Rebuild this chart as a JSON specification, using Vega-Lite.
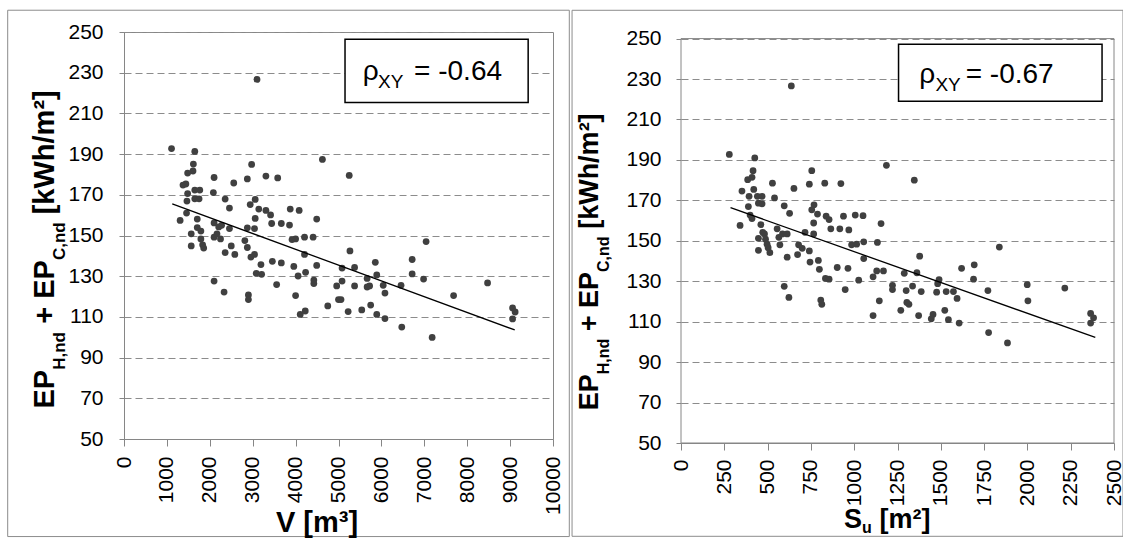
{
  "$schema": "https://vega.github.io/schema/vega-lite/v6.json",
  "background": "white",
  "padding": {"left": 6, "top": 9, "right": 0, "bottom": 0},
  "spacing": 0,
  "config": {
    "view": {"stroke": "#868686", "strokeWidth": 1},
    "font": "Liberation Sans",
    "axis": {
      "labelFont": "Liberation Sans", "labelFontSize": 21, "labelColor": "#000000",
      "domainColor": "#868686", "tickColor": "#868686", "gridColor": "#8c8c8c",
      "gridDash": [7, 4], "labelOverlap": false, "labelFlush": false, "labelBound": false
    },
    "text": {"font": "Liberation Sans", "color": "#000000"}
  },
  "datasets": {
    "left": [
      {"V":1108,"EP":192.7},{"V":1308,"EP":157.4},{"V":1375,"EP":174.8},{"V":1442,"EP":175.3},{"V":1483,"EP":180.7},
      {"V":1608,"EP":181.7},{"V":1617,"EP":185.1},{"V":1650,"EP":191.3},{"V":1483,"EP":170.6},{"V":1467,"EP":166.9},
      {"V":1458,"EP":161.0},{"V":1650,"EP":172.3},{"V":1767,"EP":172.3},{"V":1650,"EP":168.0},{"V":1750,"EP":168.0},
      {"V":1708,"EP":158.1},{"V":1567,"EP":150.8},{"V":1567,"EP":144.9},{"V":1708,"EP":153.9},{"V":1792,"EP":152.2},
      {"V":1792,"EP":148.3},{"V":1833,"EP":145.4},{"V":1858,"EP":143.8},{"V":2100,"EP":178.5},{"V":2083,"EP":171.1},
      {"V":2100,"EP":156.2},{"V":2100,"EP":149.2},{"V":2208,"EP":154.2},{"V":2167,"EP":150.8},{"V":2250,"EP":148.3},
      {"V":2275,"EP":155.0},{"V":2100,"EP":127.6},{"V":2333,"EP":122.2},{"V":2358,"EP":167.9},{"V":2458,"EP":163.5},
      {"V":2558,"EP":175.8},{"V":2358,"EP":141.6},{"V":2583,"EP":140.7},{"V":2458,"EP":153.4},{"V":2500,"EP":144.9},
      {"V":2875,"EP":177.8},{"V":2975,"EP":184.9},{"V":2942,"EP":165.2},{"V":3058,"EP":167.7},{"V":3058,"EP":158.4},
      {"V":2875,"EP":153.8},{"V":3042,"EP":153.4},{"V":2875,"EP":144.1},{"V":2958,"EP":139.4},{"V":3042,"EP":140.7},
      {"V":2817,"EP":147.5},{"V":3083,"EP":131.4},{"V":3208,"EP":130.9},{"V":3192,"EP":135.7},{"V":2900,"EP":120.8},
      {"V":2900,"EP":118.5},{"V":3100,"EP":226.7},{"V":3142,"EP":163.0},{"V":3308,"EP":179.2},{"V":3308,"EP":162.3},
      {"V":3417,"EP":160.1},{"V":3442,"EP":155.9},{"V":3583,"EP":178.3},{"V":3458,"EP":137.3},{"V":3667,"EP":136.5},
      {"V":3558,"EP":125.9},{"V":3667,"EP":155.9},{"V":3858,"EP":155.1},{"V":3875,"EP":163.0},{"V":4083,"EP":162.3},
      {"V":3917,"EP":148.0},{"V":4000,"EP":148.3},{"V":3958,"EP":134.8},{"V":4000,"EP":120.5},{"V":4058,"EP":130.1},
      {"V":4208,"EP":149.2},{"V":4208,"EP":140.7},{"V":4233,"EP":131.9},{"V":4108,"EP":111.2},{"V":4225,"EP":112.9},
      {"V":4408,"EP":149.2},{"V":4492,"EP":158.1},{"V":4425,"EP":128.1},{"V":4425,"EP":126.4},{"V":4492,"EP":135.3},
      {"V":4625,"EP":187.4},{"V":4750,"EP":115.4},{"V":4958,"EP":125.2},{"V":5000,"EP":118.5},{"V":5058,"EP":118.5},
      {"V":5083,"EP":127.6},{"V":5083,"EP":134.0},{"V":5250,"EP":179.5},{"V":5267,"EP":142.4},{"V":5225,"EP":112.6},
      {"V":5375,"EP":134.3},{"V":5375,"EP":125.2},{"V":5542,"EP":113.4},{"V":5667,"EP":128.9},{"V":5667,"EP":124.7},
      {"V":5725,"EP":125.2},{"V":5750,"EP":115.8},{"V":5858,"EP":136.8},{"V":5892,"EP":130.6},{"V":5892,"EP":111.2},
      {"V":6042,"EP":125.5},{"V":6083,"EP":121.7},{"V":6083,"EP":109.2},{"V":6458,"EP":125.5},{"V":6475,"EP":105.0},
      {"V":6717,"EP":138.2},{"V":6717,"EP":131.1},{"V":6983,"EP":128.6},{"V":7042,"EP":147.0},{"V":7183,"EP":99.9},
      {"V":7683,"EP":120.5},{"V":8475,"EP":126.7},{"V":9058,"EP":114.4},{"V":9117,"EP":112.4},{"V":9058,"EP":109.0}
    ],
    "right": [
      {"S":279,"EP":192.7},{"S":352,"EP":174.6},{"S":341,"EP":157.6},{"S":385,"EP":180.2},{"S":410,"EP":181.4},
      {"S":416,"EP":184.7},{"S":426,"EP":191.0},{"S":389,"EP":166.9},{"S":393,"EP":172.0},{"S":399,"EP":162.7},
      {"S":410,"EP":161.0},{"S":420,"EP":175.4},{"S":441,"EP":172.0},{"S":468,"EP":172.0},{"S":447,"EP":168.6},
      {"S":468,"EP":168.3},{"S":447,"EP":151.2},{"S":447,"EP":145.3},{"S":461,"EP":158.0},{"S":472,"EP":154.2},
      {"S":482,"EP":153.4},{"S":488,"EP":150.8},{"S":497,"EP":148.3},{"S":503,"EP":146.6},{"S":513,"EP":144.1},
      {"S":528,"EP":178.5},{"S":540,"EP":171.2},{"S":555,"EP":155.9},{"S":565,"EP":151.7},{"S":571,"EP":148.0},
      {"S":586,"EP":153.4},{"S":596,"EP":167.3},{"S":613,"EP":153.4},{"S":596,"EP":127.5},{"S":623,"EP":122.0},
      {"S":613,"EP":141.9},{"S":627,"EP":163.6},{"S":637,"EP":226.6},{"S":652,"EP":175.9},{"S":673,"EP":143.2},
      {"S":679,"EP":148.0},{"S":700,"EP":146.3},{"S":716,"EP":154.2},{"S":741,"EP":178.0},{"S":755,"EP":184.7},
      {"S":755,"EP":165.3},{"S":768,"EP":167.8},{"S":766,"EP":158.8},{"S":766,"EP":153.4},{"S":741,"EP":145.0},
      {"S":745,"EP":139.5},{"S":793,"EP":140.3},{"S":788,"EP":163.2},{"S":799,"EP":135.9},{"S":830,"EP":178.5},
      {"S":834,"EP":131.4},{"S":855,"EP":131.0},{"S":807,"EP":120.7},{"S":813,"EP":118.6},{"S":838,"EP":162.2},
      {"S":855,"EP":160.5},{"S":865,"EP":155.9},{"S":923,"EP":178.3},{"S":917,"EP":155.9},{"S":938,"EP":162.2},
      {"S":969,"EP":155.4},{"S":964,"EP":136.4},{"S":948,"EP":125.9},{"S":902,"EP":136.8},{"S":985,"EP":148.0},
      {"S":1006,"EP":162.7},{"S":1014,"EP":148.3},{"S":1026,"EP":130.5},{"S":1051,"EP":162.4},{"S":1055,"EP":149.5},
      {"S":1055,"EP":141.2},{"S":1109,"EP":132.2},{"S":1109,"EP":113.0},{"S":1130,"EP":135.1},{"S":1134,"EP":149.2},
      {"S":1145,"EP":120.3},{"S":1155,"EP":158.5},{"S":1169,"EP":135.1},{"S":1186,"EP":187.3},{"S":1221,"EP":128.0},
      {"S":1221,"EP":125.9},{"S":1269,"EP":115.6},{"S":1289,"EP":133.9},{"S":1300,"EP":125.4},{"S":1304,"EP":119.5},
      {"S":1316,"EP":118.6},{"S":1337,"EP":127.6},{"S":1347,"EP":180.0},{"S":1362,"EP":134.2},{"S":1378,"EP":142.4},
      {"S":1372,"EP":113.0},{"S":1387,"EP":124.9},{"S":1445,"EP":111.4},{"S":1455,"EP":113.6},{"S":1476,"EP":124.6},
      {"S":1482,"EP":128.8},{"S":1490,"EP":130.8},{"S":1523,"EP":115.6},{"S":1531,"EP":124.9},{"S":1544,"EP":111.0},
      {"S":1573,"EP":124.9},{"S":1594,"EP":121.5},{"S":1606,"EP":109.3},{"S":1620,"EP":136.4},{"S":1689,"EP":131.0},
      {"S":1693,"EP":138.1},{"S":1772,"EP":125.4},{"S":1776,"EP":104.6},{"S":1838,"EP":146.9},{"S":1885,"EP":99.5},
      {"S":1999,"EP":128.3},{"S":2003,"EP":120.3},{"S":2216,"EP":126.6},{"S":2365,"EP":114.1},{"S":2382,"EP":111.9},
      {"S":2365,"EP":109.3}
    ],
    "trendL": [{"V":1125,"EP":165.5},{"V":9108,"EP":103.6}],
    "trendR": [{"S":286,"EP":166.4},{"S":2392,"EP":102.2}]
  },
  "hconcat": [
    {
      "width": 429, "height": 407,
      "layer": [
        {
          "data": {"values": [{"k": "frame"}]},
          "mark": {"type": "rect", "filled": false, "stroke": "#8c8c8c", "strokeWidth": 1},
          "encoding": {
            "x": {"datum": -2711, "type": "quantitative", "scale": {"domain": [0, 10000], "nice": false, "zero": false}},
            "x2": {"datum": 10380},
            "y": {"datum": 260.7, "type": "quantitative", "scale": {"domain": [50, 250], "nice": false, "zero": false}},
            "y2": {"datum": 2.06}
          }
        },
        {
          "data": {"name": "left"},
          "mark": {"type": "circle", "size": 46, "color": "#404040", "opacity": 1},
          "encoding": {
            "x": {"field": "V", "type": "quantitative",
                  "scale": {"domain": [0, 10000], "nice": false, "zero": false},
                  "axis": {"title": null, "values": [0,1000,2000,3000,4000,5000,6000,7000,8000,9000,10000], "format": "d",
                           "labelAngle": 270, "tickSize": 7, "labelPadding": 10, "grid": false}},
            "y": {"field": "EP", "type": "quantitative",
                  "scale": {"domain": [50, 250], "nice": false, "zero": false},
                  "axis": {"title": null, "values": [50,70,90,110,130,150,170,190,210,230,250], "format": "d",
                           "tickSize": 5, "labelPadding": 16, "grid": true}}
          }
        },
        {
          "data": {"name": "trendL"},
          "mark": {"type": "line", "color": "#000000", "strokeWidth": 1.3},
          "encoding": {"x": {"field": "V", "type": "quantitative"}, "y": {"field": "EP", "type": "quantitative"}}
        },
        {
          "data": {"values": [{"k": "box"}]},
          "mark": {"type": "rect", "fill": "#ffffff", "stroke": "#000000", "strokeWidth": 1.5},
          "encoding": {"x": {"datum": 5152, "type": "quantitative"}, "x2": {"datum": 9421},
                       "y": {"datum": 246.4, "type": "quantitative"}, "y2": {"datum": 215.4}}
        },
        {
          "data": {"values": [{"t": "ρ"}]},
          "mark": {"type": "text", "align": "left", "baseline": "alphabetic", "fontSize": 28},
          "encoding": {"x": {"datum": 5565, "type": "quantitative"}, "y": {"datum": 226.3, "type": "quantitative"}, "text": {"field": "t"}}
        },
        {
          "data": {"values": [{"t": "XY"}]},
          "mark": {"type": "text", "align": "left", "baseline": "alphabetic", "fontSize": 19},
          "encoding": {"x": {"datum": 5922, "type": "quantitative"}, "y": {"datum": 222.3, "type": "quantitative"}, "text": {"field": "t"}}
        },
        {
          "data": {"values": [{"t": "= -0.64"}]},
          "mark": {"type": "text", "align": "left", "baseline": "alphabetic", "fontSize": 28},
          "encoding": {"x": {"datum": 6762, "type": "quantitative"}, "y": {"datum": 226.3, "type": "quantitative"}, "text": {"field": "t"}}
        },
        {
          "data": {"values": [{"t": "V [m³]"}]},
          "mark": {"type": "text", "align": "left", "baseline": "alphabetic", "fontSize": 29, "fontWeight": "bold"},
          "encoding": {"x": {"datum": 3542, "type": "quantitative"}, "y": {"datum": 4.52, "type": "quantitative"}, "text": {"field": "t"}}
        },
        {
          "data": {"values": [{"t": "EP"}]},
          "mark": {"type": "text", "align": "left", "baseline": "alphabetic", "angle": 270, "fontSize": 29, "fontWeight": "bold"},
          "encoding": {"x": {"datum": -1638, "type": "quantitative"}, "y": {"datum": 65.0, "type": "quantitative"}, "text": {"field": "t"}}
        },
        {
          "data": {"values": [{"t": "H,nd"}]},
          "mark": {"type": "text", "align": "left", "baseline": "alphabetic", "angle": 270, "fontSize": 17, "fontWeight": "bold"},
          "encoding": {"x": {"datum": -1381, "type": "quantitative"}, "y": {"datum": 84.0, "type": "quantitative"}, "text": {"field": "t"}}
        },
        {
          "data": {"values": [{"t": "+"}]},
          "mark": {"type": "text", "align": "left", "baseline": "alphabetic", "angle": 270, "fontSize": 29, "fontWeight": "bold"},
          "encoding": {"x": {"datum": -1638, "type": "quantitative"}, "y": {"datum": 106.6, "type": "quantitative"}, "text": {"field": "t"}}
        },
        {
          "data": {"values": [{"t": "EP"}]},
          "mark": {"type": "text", "align": "left", "baseline": "alphabetic", "angle": 270, "fontSize": 29, "fontWeight": "bold"},
          "encoding": {"x": {"datum": -1638, "type": "quantitative"}, "y": {"datum": 118.9, "type": "quantitative"}, "text": {"field": "t"}}
        },
        {
          "data": {"values": [{"t": "C,nd"}]},
          "mark": {"type": "text", "align": "left", "baseline": "alphabetic", "angle": 270, "fontSize": 17, "fontWeight": "bold"},
          "encoding": {"x": {"datum": -1381, "type": "quantitative"}, "y": {"datum": 137.9, "type": "quantitative"}, "text": {"field": "t"}}
        },
        {
          "data": {"values": [{"t": "[kWh/m²]"}]},
          "mark": {"type": "text", "align": "left", "baseline": "alphabetic", "angle": 270, "fontSize": 29, "fontWeight": "bold"},
          "encoding": {"x": {"datum": -1638, "type": "quantitative"}, "y": {"datum": 160.4, "type": "quantitative"}, "text": {"field": "t"}}
        }
      ]
    },
    {
      "width": 433, "height": 411,
      "view": {"stroke": null},
      "layer": [
        {
          "data": {"values": [{"k": "frame"}]},
          "mark": {"type": "rect", "filled": false, "stroke": "#8c8c8c", "strokeWidth": 1},
          "encoding": {
            "x": {"datum": -629, "type": "quantitative", "scale": {"domain": [0, 2500], "nice": false, "zero": false}},
            "x2": {"datum": 2552},
            "y": {"datum": 264.0, "type": "quantitative", "scale": {"domain": [50, 253.26], "nice": false, "zero": false}},
            "y2": {"datum": 3.86}
          }
        },
        {
          "data": {"name": "right"},
          "mark": {"type": "circle", "size": 46, "color": "#404040", "opacity": 1},
          "encoding": {
            "x": {"field": "S", "type": "quantitative",
                  "scale": {"domain": [0, 2500], "nice": false, "zero": false},
                  "axis": {"title": null, "values": [0,250,500,750,1000,1250,1500,1750,2000,2250,2500], "format": "d",
                           "labelAngle": 270, "tickSize": 7, "labelPadding": 9, "grid": false}},
            "y": {"field": "EP", "type": "quantitative",
                  "scale": {"domain": [50, 253.26], "nice": false, "zero": false},
                  "axis": {"title": null, "values": [50,70,90,110,130,150,170,190,210,230,250], "format": "d",
                           "tickSize": 5, "labelPadding": 15, "grid": true, "domain": false}}
          }
        },
        {
          "data": {"values": [{"k": "plotborder"}]},
          "mark": {"type": "rect", "filled": false, "stroke": "#868686", "strokeWidth": 1},
          "encoding": {"x": {"datum": 0, "type": "quantitative"}, "x2": {"datum": 2500},
                       "y": {"datum": 250, "type": "quantitative"}, "y2": {"datum": 50}}
        },
        {
          "data": {"name": "trendR"},
          "mark": {"type": "line", "color": "#000000", "strokeWidth": 1.3},
          "encoding": {"x": {"field": "S", "type": "quantitative"}, "y": {"field": "EP", "type": "quantitative"}}
        },
        {
          "data": {"values": [{"k": "box"}]},
          "mark": {"type": "rect", "fill": "#ffffff", "stroke": "#000000", "strokeWidth": 1.5},
          "encoding": {"x": {"datum": 1256, "type": "quantitative"}, "x2": {"datum": 2431},
                       "y": {"datum": 247.2, "type": "quantitative"}, "y2": {"datum": 219.0}}
        },
        {
          "data": {"values": [{"t": "ρ"}]},
          "mark": {"type": "text", "align": "left", "baseline": "alphabetic", "fontSize": 28},
          "encoding": {"x": {"datum": 1376, "type": "quantitative"}, "y": {"datum": 228.2, "type": "quantitative"}, "text": {"field": "t"}}
        },
        {
          "data": {"values": [{"t": "XY"}]},
          "mark": {"type": "text", "align": "left", "baseline": "alphabetic", "fontSize": 19},
          "encoding": {"x": {"datum": 1469, "type": "quantitative"}, "y": {"datum": 224.3, "type": "quantitative"}, "text": {"field": "t"}}
        },
        {
          "data": {"values": [{"t": "= -0.67"}]},
          "mark": {"type": "text", "align": "left", "baseline": "alphabetic", "fontSize": 28},
          "encoding": {"x": {"datum": 1644, "type": "quantitative"}, "y": {"datum": 228.2, "type": "quantitative"}, "text": {"field": "t"}}
        },
        {
          "data": {"values": [{"t": "S"}]},
          "mark": {"type": "text", "align": "left", "baseline": "alphabetic", "fontSize": 27, "fontWeight": "bold"},
          "encoding": {"x": {"datum": 941, "type": "quantitative"}, "y": {"datum": 7.81, "type": "quantitative"}, "text": {"field": "t"}}
        },
        {
          "data": {"values": [{"t": "u"}]},
          "mark": {"type": "text", "align": "left", "baseline": "alphabetic", "fontSize": 16, "fontWeight": "bold"},
          "encoding": {"x": {"datum": 1045, "type": "quantitative"}, "y": {"datum": 5.34, "type": "quantitative"}, "text": {"field": "t"}}
        },
        {
          "data": {"values": [{"t": "[m²]"}]},
          "mark": {"type": "text", "align": "left", "baseline": "alphabetic", "fontSize": 27, "fontWeight": "bold"},
          "encoding": {"x": {"datum": 1146, "type": "quantitative"}, "y": {"datum": 7.81, "type": "quantitative"}, "text": {"field": "t"}}
        },
        {
          "data": {"values": [{"t": "EP"}]},
          "mark": {"type": "text", "align": "left", "baseline": "alphabetic", "angle": 270, "fontSize": 27, "fontWeight": "bold"},
          "encoding": {"x": {"datum": -479, "type": "quantitative"}, "y": {"datum": 66.2, "type": "quantitative"}, "text": {"field": "t"}}
        },
        {
          "data": {"values": [{"t": "H,nd"}]},
          "mark": {"type": "text", "align": "left", "baseline": "alphabetic", "angle": 270, "fontSize": 16, "fontWeight": "bold"},
          "encoding": {"x": {"datum": -416, "type": "quantitative"}, "y": {"datum": 84.0, "type": "quantitative"}, "text": {"field": "t"}}
        },
        {
          "data": {"values": [{"t": "+"}]},
          "mark": {"type": "text", "align": "left", "baseline": "alphabetic", "angle": 270, "fontSize": 27, "fontWeight": "bold"},
          "encoding": {"x": {"datum": -479, "type": "quantitative"}, "y": {"datum": 105.3, "type": "quantitative"}, "text": {"field": "t"}}
        },
        {
          "data": {"values": [{"t": "EP"}]},
          "mark": {"type": "text", "align": "left", "baseline": "alphabetic", "angle": 270, "fontSize": 27, "fontWeight": "bold"},
          "encoding": {"x": {"datum": -479, "type": "quantitative"}, "y": {"datum": 116.8, "type": "quantitative"}, "text": {"field": "t"}}
        },
        {
          "data": {"values": [{"t": "C,nd"}]},
          "mark": {"type": "text", "align": "left", "baseline": "alphabetic", "angle": 270, "fontSize": 16, "fontWeight": "bold"},
          "encoding": {"x": {"datum": -416, "type": "quantitative"}, "y": {"datum": 134.6, "type": "quantitative"}, "text": {"field": "t"}}
        },
        {
          "data": {"values": [{"t": "[kWh/m²]"}]},
          "mark": {"type": "text", "align": "left", "baseline": "alphabetic", "angle": 270, "fontSize": 27, "fontWeight": "bold"},
          "encoding": {"x": {"datum": -479, "type": "quantitative"}, "y": {"datum": 155.9, "type": "quantitative"}, "text": {"field": "t"}}
        }
      ]
    }
  ]
}
